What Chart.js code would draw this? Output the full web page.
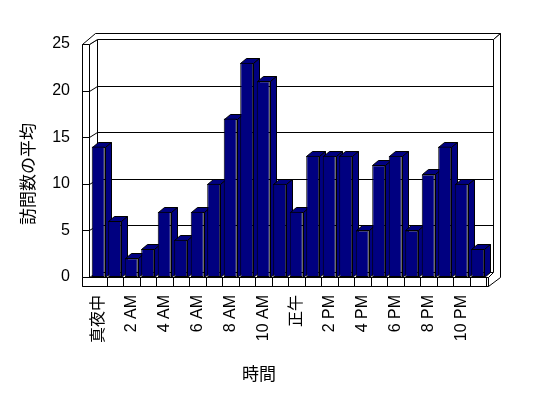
<!DOCTYPE html>
<html>
<head>
<meta charset="utf-8">
<script src="https://cdn.jsdelivr.net/npm/chart.js@4/dist/chart.umd.min.js"></script>
<style>
    body { margin: 0; background: #fff; }
    #wrap { width: 548px; height: 398px; }
</style>
</head>
<body>
<div id="wrap"><canvas id="visits-chart"></canvas></div>
<script>
// 時間ごとの訪問数の平均
const hourLabels = ['真夜中', '1 AM', '2 AM', '3 AM', '4 AM', '5 AM', '6 AM', '7 AM', '8 AM', '9 AM', '10 AM', '11 AM',
                    '正午', '1 PM', '2 PM', '3 PM', '4 PM', '5 PM', '6 PM', '7 PM', '8 PM', '9 PM', '10 PM', '11 PM'];
const avgVisits = [14, 6, 2, 3, 7, 4, 7, 10, 17, 23, 21, 10, 7, 13, 13, 13, 5, 12, 13, 5, 11, 14, 10, 3];
const yTicks = [0, 5, 10, 15, 20, 25];
const yTitle = '訪問数の平均';
const xTitle = '時間';

const FONT = '"Liberation Sans", "Noto Sans CJK JP", sans-serif';
const DX = 7, DY = -5;     // 壁の奥行き
const BDX = 6, BDY = -5;   // 棒の奥行き
const NAVY = '#000080';

function poly(ctx, pts, fill) {
    ctx.beginPath();
    pts.forEach(([px, py], i) => {
        const sx = Math.round(px) + 0.5, sy = Math.round(py) + 0.5;
        if (i === 0) ctx.moveTo(sx, sy); else ctx.lineTo(sx, sy);
    });
    if (fill) {
        ctx.closePath();
        ctx.fillStyle = fill;
        ctx.fill();
    }
    ctx.stroke();
}

// 3D の壁・床・棒の側面を描く
const box3d = {
    id: 'box3d',
    beforeDatasetsDraw(chart) {
        const ctx = chart.ctx;
        const xs = chart.scales.x, ys = chart.scales.y;
        const L = Math.round(chart.chartArea.left);
        const R = Math.round(chart.chartArea.right);
        const B = Math.round(ys.getPixelForValue(0));
        const T = Math.round(ys.getPixelForValue(yTicks[yTicks.length - 1]));
        ctx.save();
        ctx.strokeStyle = '#000';
        ctx.lineWidth = 1;

        // 奥の壁
        poly(ctx, [[L + DX, T + DY], [R + DX, T + DY], [R + DX, B + DY], [L + DX, B + DY]], '#fff');
        // 左の壁
        poly(ctx, [[L - 1, T], [L + DX, T + DY], [L + DX, B + DY], [L - 1, B]], '#fff');
        poly(ctx, [[L - 8, T], [L - 1, T], [L - 1, B + 9], [L - 8, B + 9]], '#fff');
        // 壁の上端
        poly(ctx, [[L - 8, T], [L + 5, T - 11], [R + DX + 7, T - 11], [R + DX, T + DY], [L + DX, T + DY], [L - 1, T]], '#fff');
        // 右の壁
        poly(ctx, [[R + DX, T + DY], [R + DX + 7, T - 11], [R + DX + 7, B], [R + 2, B + 9], [R + 2, B], [R + DX, B + DY]], '#fff');

        // 目盛線
        yTicks.slice(1, -1).forEach(v => {
            const yf = Math.round(ys.getPixelForValue(v));
            poly(ctx, [[L - 8, yf], [L - 1, yf], [L + DX, yf + DY], [R + DX, yf + DY]]);
        });

        // 床
        poly(ctx, [[L - 8, B], [R + 2, B], [R + 2, B + 9], [L - 8, B + 9]], '#fff');
        for (let i = 1; i <= hourLabels.length; i++) {
            const bx = xs.getPixelForValue(i - 0.5);
            poly(ctx, [[bx, B], [bx, B + 9]]);
        }

        // 棒の上面と側面
        const meta = chart.getDatasetMeta(0);
        meta.data.forEach(el => {
            const l = el.x - el.width / 2, r = el.x + el.width / 2;
            const t = el.y, b = el.base;
            poly(ctx, [[l, t], [l + BDX, t + BDY], [r + BDX, t + BDY], [r, t]], NAVY);
            poly(ctx, [[r, t], [r + BDX, t + BDY], [r + BDX, b + BDY], [r, b]], NAVY);
        });
        ctx.restore();
    },
    afterDraw(chart) {
        const ctx = chart.ctx;
        ctx.save();
        ctx.fillStyle = '#000';
        ctx.font = '17px ' + FONT;
        ctx.textAlign = 'center';
        ctx.textBaseline = 'middle';
        ctx.fillText(xTitle, 259, 375);
        ctx.translate(29, 174);
        ctx.rotate(-Math.PI / 2);
        ctx.fillText(yTitle, 0, 0);
        ctx.restore();
    }
};

new Chart(document.getElementById('visits-chart'), {
    type: 'bar',
    data: {
        labels: hourLabels,
        datasets: [{
            label: yTitle,
            data: avgVisits,
            backgroundColor: NAVY,
            borderColor: '#000',
            borderWidth: 1,
            borderSkipped: false,
            categoryPercentage: 1,
            barPercentage: 0.79
        }]
    },
    options: {
        responsive: true,
        maintainAspectRatio: false,
        animation: false,
        layout: { padding: { top: 44, right: 62, left: 0, bottom: 0 } },
        plugins: {
            legend: { display: false },
            tooltip: { enabled: false }
        },
        scales: {
            x: {
                grid: { display: false, drawTicks: false },
                border: { display: false },
                afterFit: (scale) => { scale.height = 121; },
                ticks: {
                    color: '#000',
                    font: { family: FONT, size: 16 },
                    autoSkip: false,
                    minRotation: 90,
                    maxRotation: 90,
                    padding: 18,
                    callback: (val, i) => (i % 2 === 0 ? hourLabels[i] : '')
                }
            },
            y: {
                min: yTicks[0],
                max: yTicks[yTicks.length - 1],
                grid: { display: false, drawTicks: false },
                border: { display: false },
                afterFit: (scale) => { scale.width = 90; },
                afterBuildTicks: (scale) => { scale.ticks = yTicks.map(v => ({ value: v })); },
                ticks: {
                    color: '#000',
                    font: { family: FONT, size: 16 },
                    padding: 20
                }
            }
        }
    },
    plugins: [box3d]
});
</script>
</body>
</html>
